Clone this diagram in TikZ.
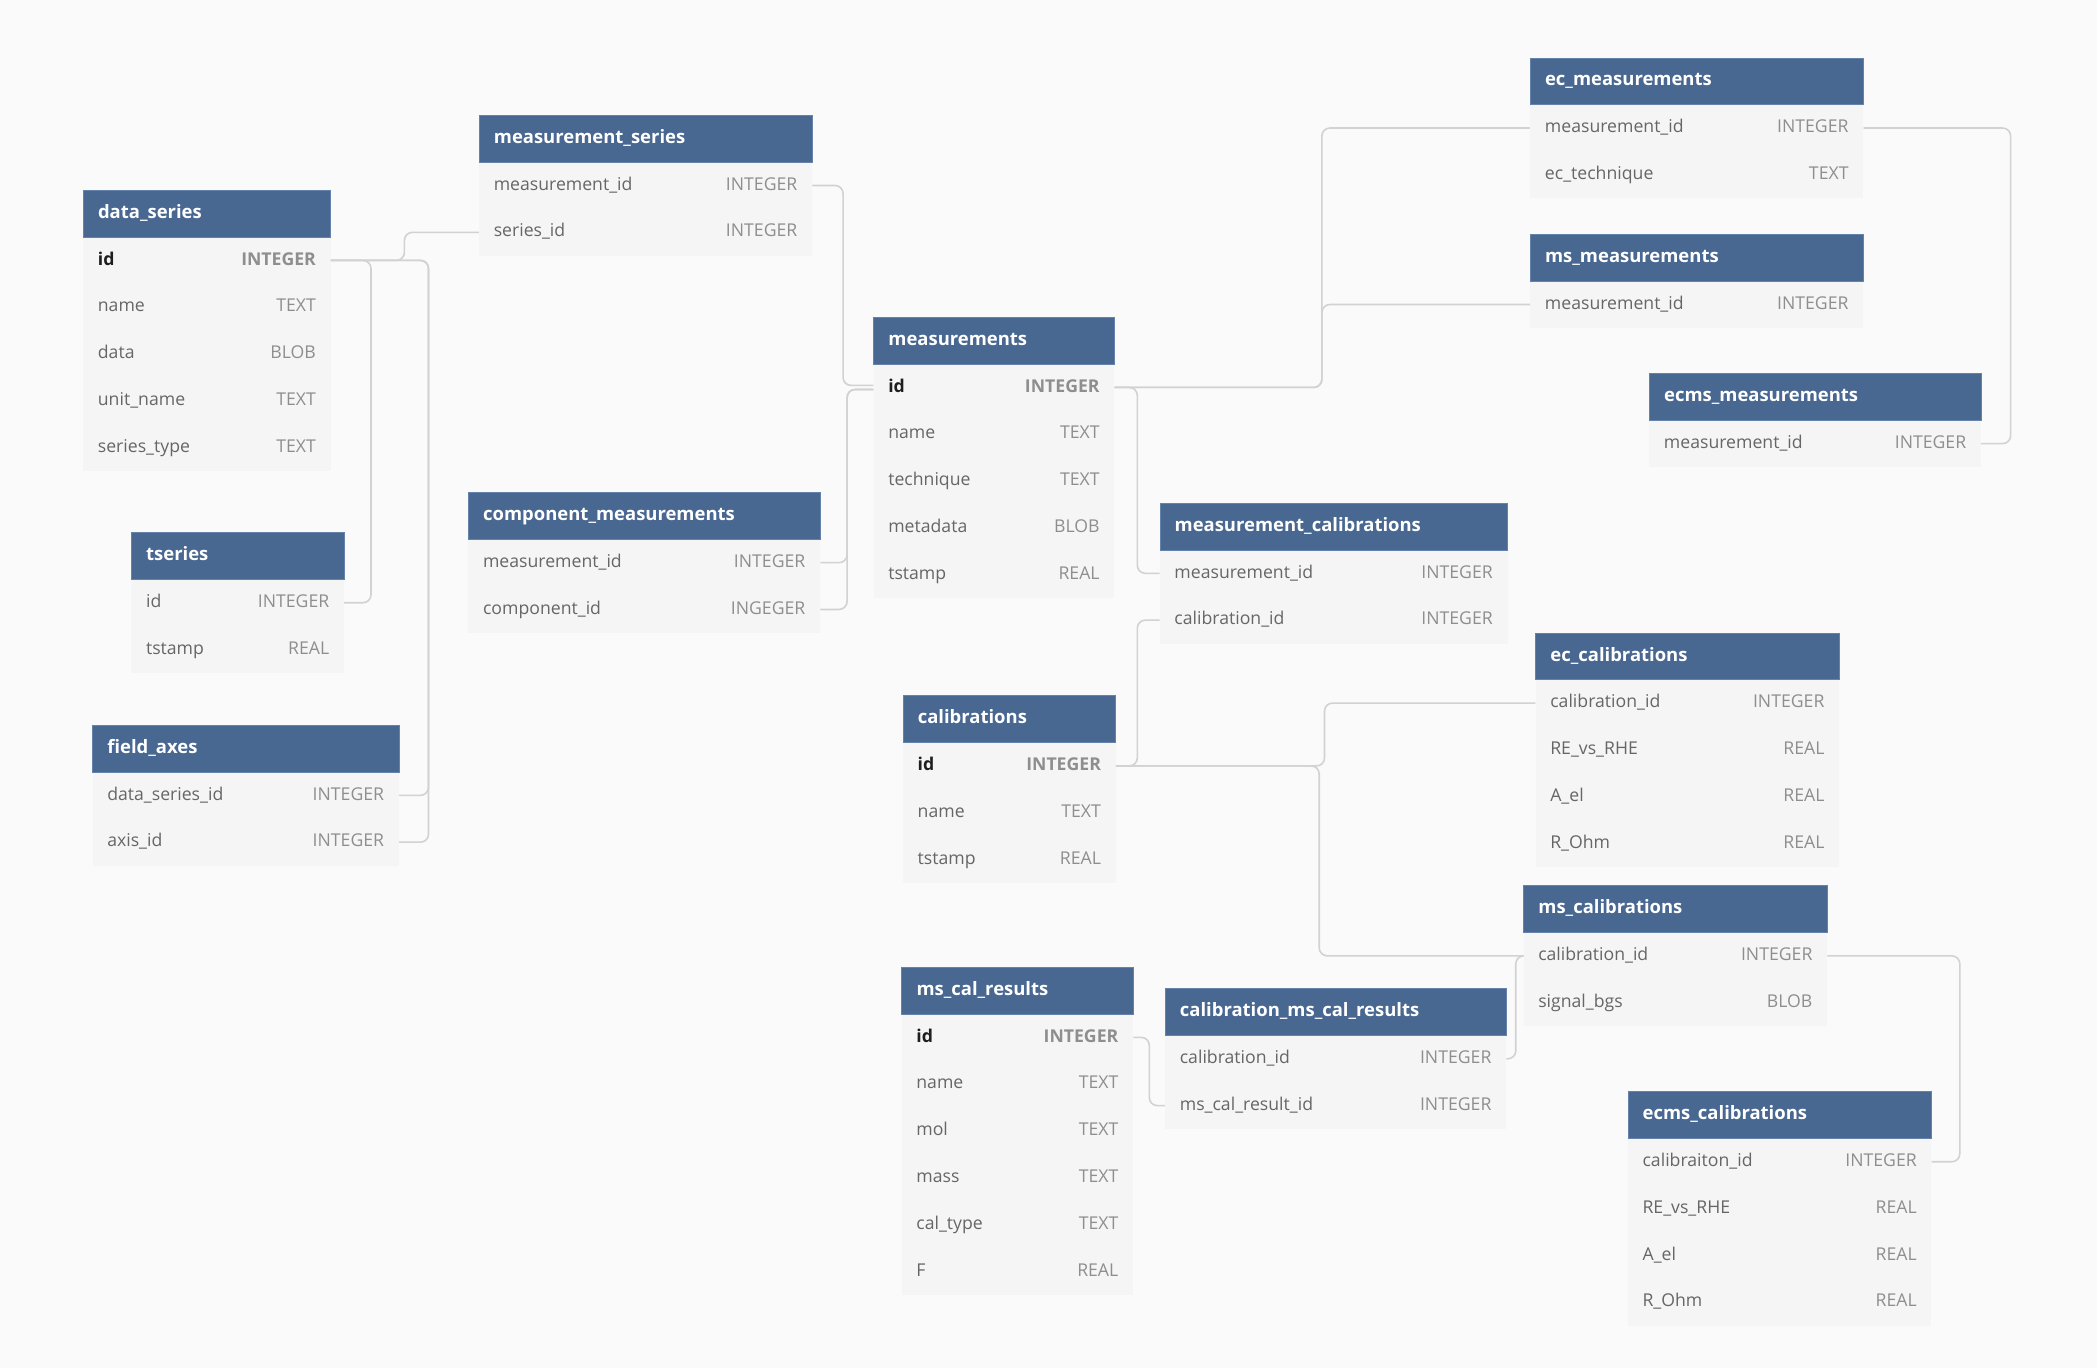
\documentclass[tikz,border=0pt]{standalone}
\usepackage{fontspec}
\setmainfont{Open Sans}
\definecolor{bgc}{HTML}{FAFAFA}
\definecolor{hdrc}{HTML}{486791}
\definecolor{hdrline}{HTML}{6482AA}
\definecolor{bodyc}{HTML}{F5F5F5}
\definecolor{fieldc}{HTML}{666666}
\definecolor{typec}{HTML}{8E8E8E}
\definecolor{pkc}{HTML}{1E1E1E}
\definecolor{connc}{HTML}{D2D2D2}
\newcommand{\pkf}[1]{\textcolor{pkc}{\bfseries #1}}
\newcommand{\pkt}[1]{{\bfseries #1}}
\tikzset{
  hdr/.style={rectangle, fill=hdrc, draw=hdrline, line width=0.6pt, inner sep=0pt,
    minimum height=35pt, text height=10pt, text depth=3pt,
    font=\fontsize{13.8}{16}\selectfont\bfseries, text=white},
  rowbox/.style={rectangle, fill=bodyc, inner sep=0pt, minimum height=35pt,
    text height=10pt, text depth=3pt, font=\fontsize{13.2}{15}\selectfont},
  conn/.style={draw=connc, line width=1.2pt, rounded corners=6pt},
}
\newcommand{\dbtable}[6]{%
  \pgfmathsetmacro{\tw}{#4-22}%
  \foreach \fld/\typ [count=\i] in {#6}{%
    \node[rowbox, minimum width=#4pt, text width=\tw pt, anchor=north west] (#1-\i) at (#2,#3+35*\i)
      {\noindent{\color{fieldc}\fld}\hskip 0pt plus 1filll{\color{typec}\typ}};
  }%
  \node[hdr, minimum width=#4pt, text width=\tw pt, anchor=north west] (#1) at (#2,#3) {\noindent #5};
}
\begin{document}
\begin{tikzpicture}[x=1pt, y=-1pt]
\fill[bgc] (0,0) rectangle (1568,1023);
\useasboundingbox (0,0) rectangle (1568,1023);

\dbtable{ds}{62}{142}{185}{data\_series}{\pkf{id}/\pkt{INTEGER}, name/TEXT, data/BLOB, unit\_name/TEXT, series\_type/TEXT}
\dbtable{mser}{358}{86}{249}{measurement\_series}{measurement\_id/INTEGER, series\_id/INTEGER}
\dbtable{ts}{98}{398}{159}{tseries}{id/INTEGER, tstamp/REAL}
\dbtable{fa}{69}{542}{229}{field\_axes}{data\_series\_id/INTEGER, axis\_id/INTEGER}
\dbtable{cm}{350}{368}{263}{component\_measurements}{measurement\_id/INTEGER, component\_id/INGEGER}
\dbtable{meas}{653}{237}{180}{measurements}{\pkf{id}/\pkt{INTEGER}, name/TEXT, technique/TEXT, metadata/BLOB, tstamp/REAL}
\dbtable{mc}{867}{376}{260}{measurement\_calibrations}{measurement\_id/INTEGER, calibration\_id/INTEGER}
\dbtable{ecm}{1144}{43}{249}{ec\_measurements}{measurement\_id/INTEGER, ec\_technique/TEXT}
\dbtable{msm}{1144}{175}{249}{ms\_measurements}{measurement\_id/INTEGER}
\dbtable{ecmsm}{1233}{279}{248}{ecms\_measurements}{measurement\_id/INTEGER}
\dbtable{cal}{675}{520}{159}{calibrations}{\pkf{id}/\pkt{INTEGER}, name/TEXT, tstamp/REAL}
\dbtable{ecc}{1148}{473}{227}{ec\_calibrations}{calibration\_id/INTEGER, RE\_vs\_RHE/REAL, A\_el/REAL, R\_Ohm/REAL}
\dbtable{msc}{1139}{662}{227}{ms\_calibrations}{calibration\_id/INTEGER, signal\_bgs/BLOB}
\dbtable{mcr}{674}{723}{173}{ms\_cal\_results}{\pkf{id}/\pkt{INTEGER}, name/TEXT, mol/TEXT, mass/TEXT, cal\_type/TEXT, F/REAL}
\dbtable{cmcr}{871}{739}{255}{calibration\_ms\_cal\_results}{calibration\_id/INTEGER, ms\_cal\_result\_id/INTEGER}
\dbtable{ecmsc}{1217}{816}{227}{ecms\_calibrations}{calibraiton\_id/INTEGER, RE\_vs\_RHE/REAL, A\_el/REAL, R\_Ohm/REAL}

% connectors
\draw[conn] (ds-1.east) -- ++(55,0) |- (mser-2.west);
\draw[conn] (ds-1.east) -- ++(30,0) |- (ts-1.east);
\draw[conn] (ds-1.east) -- ++(73,0) |- (fa-1.east);
\draw[conn] (ds-1.east) -- ++(73,0) |- (fa-2.east);
\draw[conn] (mser-1.east) -- ++(23,0) |- ([yshift=1.5pt]meas-1.west);
\draw[conn] (cm-1.east) -- ++(20,0) |- ([yshift=-1.5pt]meas-1.west);
\draw[conn] (cm-2.east) -- ++(20,0) |- ([yshift=-1.5pt]meas-1.west);
\draw[conn] (meas-1.east) -- ++(155,0) |- (ecm-1.west);
\draw[conn] (meas-1.east) -- ++(155,0) |- (msm-1.west);
\draw[conn] (ecmsm-1.east) -- ++(22,0) |- (ecm-1.east);
\draw[conn] (meas-1.east) -- ++(17,0) |- (mc-1.west);
\draw[conn] (cal-1.east) -- ++(16,0) |- (mc-2.west);
\draw[conn] (cal-1.east) -- ++(156,0) |- (ecc-1.west);
\draw[conn] (cal-1.east) -- ++(152,0) |- (msc-1.west);
\draw[conn] (msc-1.east) -- ++(99,0) |- (ecmsc-1.east);
\draw[conn] (cmcr-1.east) -- ++(7,0) |- (msc-1.west);
\draw[conn] (mcr-1.east) -- ++(12,0) |- (cmcr-2.west);
\end{tikzpicture}
\end{document}
